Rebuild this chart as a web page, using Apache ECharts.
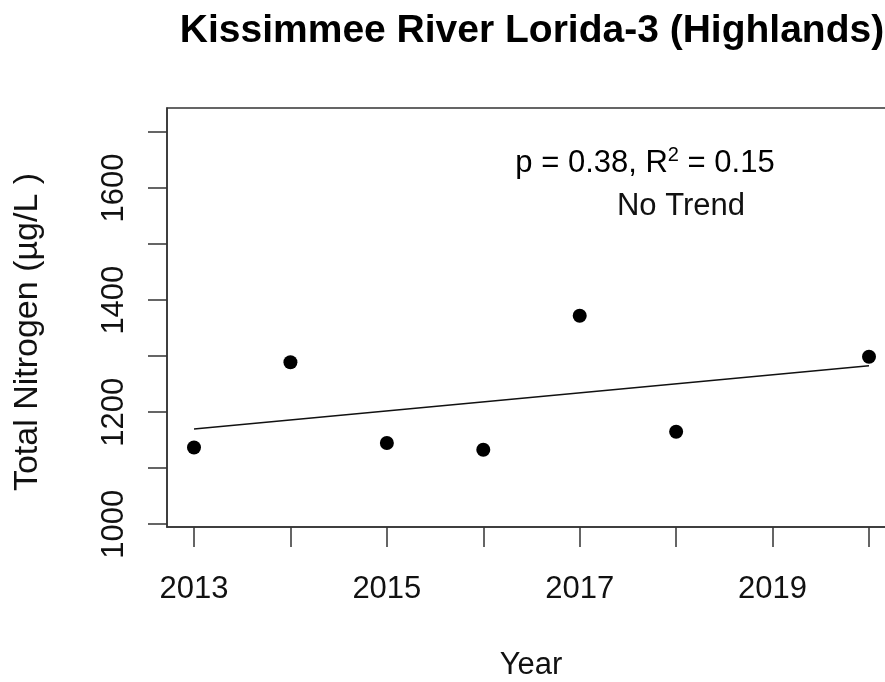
<!DOCTYPE html>
<html>
<head>
<meta charset="utf-8">
<script src="https://cdn.jsdelivr.net/npm/echarts@6/dist/echarts.min.js"></script>
<style>
html,body{margin:0;padding:0;background:#fff;}
#chart{width:885px;height:682px;}
</style>
</head>
<body>
<div id="chart"></div>
<script>
const years = [2013, 2014, 2015, 2016, 2017, 2018, 2020];
const nitrogen = [1137, 1289, 1145, 1133, 1372, 1165, 1299];
const trendYears = [2013, 2020];
const trendValues = [1170, 1283];
const xTicks = [2013, 2014, 2015, 2016, 2017, 2018, 2019, 2020];
const xTickLabels = [2013, 2015, 2017, 2019];
const yTicks = [1000, 1100, 1200, 1300, 1400, 1500, 1600, 1700];
const yTickLabels = [1000, 1200, 1400, 1600];
const titleText = 'Kissimmee River Lorida-3 (Highlands)';
const xName = 'Year';
const yName = 'Total Nitrogen (\u00b5g/L )';
const statText = ['p = 0.38, R', '2', ' = 0.15'];
const trendText = 'No Trend';

const FONT = '"Liberation Sans", Arial, sans-serif';
const AX = '#333';
const chart = echarts.init(document.getElementById('chart'), null, {renderer: 'canvas'});
const axisCommon = {
  type: 'value',
  axisLine: {show: true, lineStyle: {color: AX, width: 1.5}},
  splitLine: {show: false},
};
chart.setOption({
  animation: false,
  backgroundColor: '#fff',
  textStyle: {fontFamily: FONT},
  grid: {left: 167, top: 108, width: 729, height: 419, show: true,
         outerBoundsMode: 'none', containLabel: false,
         borderColor: AX, borderWidth: 1.5, backgroundColor: 'transparent'},
  xAxis: Object.assign({}, axisCommon, {
    min: 2012.72, max: 2020.28,
    axisTick: {show: true, length: 20, customValues: xTicks, lineStyle: {color: AX, width: 1.5}},
    axisLabel: {customValues: xTickLabels, formatter: v => String(v), fontSize: 31,
                color: '#111', margin: 47, fontFamily: FONT}
  }),
  yAxis: Object.assign({}, axisCommon, {
    min: 995, max: 1743,
    axisTick: {show: true, length: 19, customValues: yTicks, lineStyle: {color: AX, width: 1.5}},
    axisLabel: {customValues: yTickLabels, formatter: v => String(v), fontSize: 31,
                color: '#111', margin: 37, rotate: 90, fontFamily: FONT}
  }),
  series: [
    {type: 'line', data: trendYears.map((y, i) => [y, trendValues[i]]), symbol: 'none',
     lineStyle: {color: '#111', width: 1.5}, z: 2},
    {type: 'scatter', data: years.map((y, i) => [y, nitrogen[i]]), symbol: 'circle',
     symbolSize: 14, itemStyle: {color: '#000', opacity: 1}, z: 3}
  ],
  graphic: [
    {type: 'text', x: 532, y: 31, style: {text: titleText, font: 'bold 39px ' + FONT,
      fill: '#000', align: 'center', verticalAlign: 'middle'}},
    {type: 'text', x: 531, y: 665, style: {text: xName, font: '31px ' + FONT,
      fill: '#111', align: 'center', verticalAlign: 'middle'}},
    {type: 'text', x: 28, y: 332, rotation: Math.PI / 2, style: {text: yName, font: '34px ' + FONT,
      fill: '#111', align: 'center', verticalAlign: 'middle'}},
    {type: 'text', x: 645, y: 145, style: {
      text: '{a|' + statText[0] + '}{s|' + statText[1] + '}{a|' + statText[2] + '}',
      align: 'center', verticalAlign: 'top',
      rich: {
        a: {fontSize: 31, fontFamily: FONT, color: '#111', lineHeight: 36},
        s: {fontSize: 20, fontFamily: FONT, color: '#111', lineHeight: 16, verticalAlign: 'top'}
      }}},
    {type: 'text', x: 681, y: 206, style: {text: trendText, font: '31px ' + FONT,
      fill: '#111', align: 'center', verticalAlign: 'middle'}}
  ]
});
</script>
</body>
</html>
